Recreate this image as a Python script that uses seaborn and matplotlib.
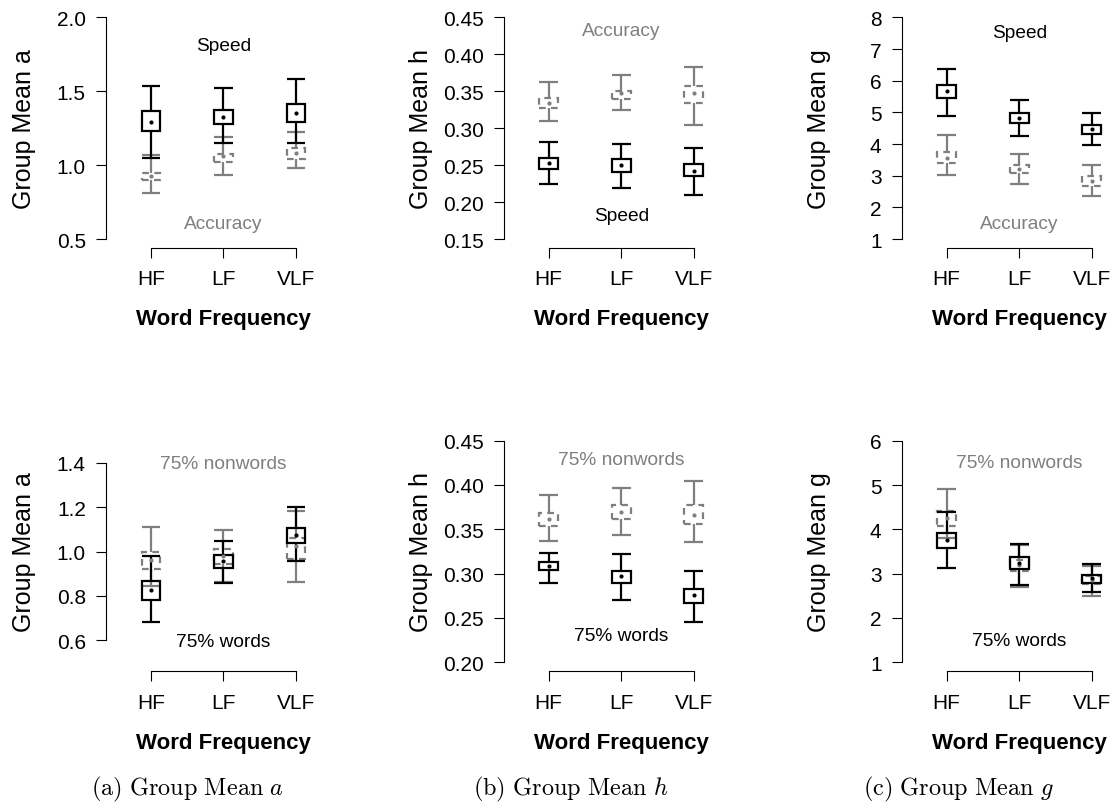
import numpy as np
import matplotlib
matplotlib.use("Agg")
import matplotlib.pyplot as plt
import seaborn as sns

sns.set_theme(style="ticks")
plt.rcParams["font.family"] = ["Liberation Sans", "DejaVu Sans"]
plt.rcParams["mathtext.fontset"] = "cm"

# ---------------------------------------------------------------- data
freq_levels = ["HF", "LF", "VLF"]
freq_pos = [1, 2, 3]

# each condition: lower CI, lower box edge, mean, upper box edge, upper CI
# Panel (a) top: boundary separation a, speed vs accuracy instructions
a_speed_ci_lo = [1.051, 1.150, 1.149]
a_speed_box_lo = [1.232, 1.277, 1.293]
a_speed_mean = [1.293, 1.326, 1.356]
a_speed_box_hi = [1.367, 1.374, 1.412]
a_speed_ci_hi = [1.536, 1.520, 1.586]

a_acc_ci_lo = [0.811, 0.934, 0.980]
a_acc_box_lo = [0.897, 1.020, 1.041]
a_acc_mean = [0.928, 1.061, 1.081]
a_acc_box_hi = [0.950, 1.077, 1.115]
a_acc_ci_hi = [1.072, 1.189, 1.221]

# Panel (b) top: h
h_speed_ci_lo = [0.224, 0.219, 0.210]
h_speed_box_lo = [0.245, 0.241, 0.235]
h_speed_mean = [0.253, 0.2505, 0.242]
h_speed_box_hi = [0.260, 0.258, 0.252]
h_speed_ci_hi = [0.282, 0.279, 0.273]

h_acc_ci_lo = [0.310, 0.325, 0.305]
h_acc_box_lo = [0.327, 0.340, 0.334]
h_acc_mean = [0.334, 0.348, 0.348]
h_acc_box_hi = [0.341, 0.351, 0.357]
h_acc_ci_hi = [0.362, 0.372, 0.383]

# Panel (c) top: g
g_speed_ci_lo = [4.89, 4.26, 3.97]
g_speed_box_lo = [5.45, 4.65, 4.33]
g_speed_mean = [5.66, 4.82, 4.48]
g_speed_box_hi = [5.87, 4.97, 4.60]
g_speed_ci_hi = [6.37, 5.40, 4.98]

g_acc_ci_lo = [3.03, 2.74, 2.35]
g_acc_box_lo = [3.40, 3.07, 2.68]
g_acc_mean = [3.57, 3.20, 2.83]
g_acc_box_hi = [3.74, 3.35, 2.98]
g_acc_ci_hi = [4.28, 3.68, 3.33]

# Bottom row: 75% words vs 75% nonwords
a_words_ci_lo = [0.681, 0.858, 0.958]
a_words_box_lo = [0.783, 0.925, 1.040]
a_words_mean = [0.825, 0.955, 1.075]
a_words_box_hi = [0.868, 0.984, 1.108]
a_words_ci_hi = [0.978, 1.049, 1.202]

a_non_ci_lo = [0.845, 0.862, 0.861]
a_non_box_lo = [0.921, 0.945, 0.967]
a_non_mean = [0.960, 0.978, 1.027]
a_non_box_hi = [0.997, 1.012, 1.062]
a_non_ci_hi = [1.111, 1.098, 1.183]

h_words_ci_lo = [0.290, 0.270, 0.246]
h_words_box_lo = [0.304, 0.290, 0.267]
h_words_mean = [0.309, 0.297, 0.2755]
h_words_box_hi = [0.313, 0.303, 0.283]
h_words_ci_hi = [0.323, 0.322, 0.303]

h_non_ci_lo = [0.337, 0.344, 0.336]
h_non_box_lo = [0.354, 0.362, 0.356]
h_non_mean = [0.362, 0.370, 0.366]
h_non_box_hi = [0.368, 0.377, 0.377]
h_non_ci_hi = [0.389, 0.397, 0.4045]

g_words_ci_lo = [3.13, 2.75, 2.59]
g_words_box_lo = [3.57, 3.10, 2.79]
g_words_mean = [3.77, 3.24, 2.90]
g_words_box_hi = [3.92, 3.37, 2.98]
g_words_ci_hi = [4.38, 3.66, 3.21]

g_non_ci_lo = [3.80, 2.71, 2.50]
g_non_box_lo = [4.07, 3.06, 2.76]
g_non_mean = [4.25, 3.20, 2.86]
g_non_box_hi = [4.41, 3.31, 2.95]
g_non_ci_hi = [4.92, 3.64, 3.17]

# ---------------------------------------------------------------- style
BLACK = "#000000"
GRAY = "#7f7f7f"
LW = 1.6
HALF = 0.13          # half-width of boxes and caps (x units)
W_PX, H_PX = 1116, 812

fig = plt.figure(figsize=(W_PX / 100, H_PX / 100), dpi=100)


def add_panel(left, top, width=235.0, height=239.4):
    return fig.add_axes([left / W_PX, 1 - (top + height) / H_PX,
                         width / W_PX, height / H_PX])


def draw_condition(ax, ci_lo, box_lo, mean, box_hi, ci_hi, color, box_ls):
    x = np.asarray(freq_pos, dtype=float)
    ax.vlines(x, ci_lo, box_lo, color=color, lw=LW, zorder=3)
    ax.vlines(x, box_hi, ci_hi, color=color, lw=LW, zorder=3)
    ax.hlines(ci_lo, x - HALF, x + HALF, color=color, lw=LW, zorder=3)
    ax.hlines(ci_hi, x - HALF, x + HALF, color=color, lw=LW, zorder=3)
    ax.bar(x, np.subtract(box_hi, box_lo), bottom=box_lo, width=2 * HALF,
           fill=False, edgecolor=color, linewidth=LW, linestyle=box_ls,
           zorder=3)
    sns.scatterplot(x=x, y=mean, ax=ax, color=color, s=9, linewidth=0,
                    zorder=4, legend=False)


def style_axes(ax, ylim, yticks, ytick_fmt, ylabel):
    lo, hi = ylim
    r = hi - lo
    ax.set_ylim(lo - 0.04 * r, hi + 0.04 * r)
    ax.set_xlim(0.38, 3.62)
    ax.set_yticks(yticks)
    ax.set_yticklabels([ytick_fmt % t for t in yticks])
    ax.set_xticks(freq_pos)
    ax.set_xticklabels(freq_levels)
    for side in ("top", "right"):
        ax.spines[side].set_visible(False)
    ax.spines["left"].set_bounds(yticks[0], yticks[-1])
    ax.spines["bottom"].set_bounds(1, 3)
    for side in ("left", "bottom"):
        ax.spines[side].set_linewidth(0.8)
        ax.spines[side].set_color("#000000")
    ax.tick_params(axis="both", direction="out", length=7.5, width=0.8,
                   color="#000000", labelsize=15, labelcolor="#000000")
    ax.tick_params(axis="y", pad=7)
    ax.tick_params(axis="x", pad=8)
    ax.set_ylabel(ylabel, fontsize=18, color="#000000")
    ax.yaxis.set_label_coords(-0.30, 0.5)
    ax.set_xlabel("Word Frequency", fontsize=16, fontweight="bold",
                  color="#000000")
    ax.xaxis.set_label_coords(0.5, -0.252)
    ax.set_facecolor("white")
    ax.grid(False)


LEFTS = [106.0, 503.7, 901.7]
TOPS = [9.5, 432.8]

panels = [
    # row, col, ylabel, ylim, yticks, tick format, black series, gray series,
    # black text, gray text, y of black text, y of gray text
    (0, 0, "Group Mean a", (0.5, 2.0), [0.5, 1.0, 1.5, 2.0], "%.1f",
     (a_speed_ci_lo, a_speed_box_lo, a_speed_mean, a_speed_box_hi, a_speed_ci_hi),
     (a_acc_ci_lo, a_acc_box_lo, a_acc_mean, a_acc_box_hi, a_acc_ci_hi),
     "Speed", "Accuracy", 1.808, 0.606),
    (0, 1, "Group Mean h", (0.15, 0.45),
     [0.15, 0.20, 0.25, 0.30, 0.35, 0.40, 0.45], "%.2f",
     (h_speed_ci_lo, h_speed_box_lo, h_speed_mean, h_speed_box_hi, h_speed_ci_hi),
     (h_acc_ci_lo, h_acc_box_lo, h_acc_mean, h_acc_box_hi, h_acc_ci_hi),
     "Speed", "Accuracy", 0.1815, 0.432),
    (0, 2, "Group Mean g", (1, 8), [1, 2, 3, 4, 5, 6, 7, 8], "%d",
     (g_speed_ci_lo, g_speed_box_lo, g_speed_mean, g_speed_box_hi, g_speed_ci_hi),
     (g_acc_ci_lo, g_acc_box_lo, g_acc_mean, g_acc_box_hi, g_acc_ci_hi),
     "Speed", "Accuracy", 7.53, 1.505),
    (1, 0, "Group Mean a", (0.5, 1.5), [0.6, 0.8, 1.0, 1.2, 1.4], "%.1f",
     (a_words_ci_lo, a_words_box_lo, a_words_mean, a_words_box_hi, a_words_ci_hi),
     (a_non_ci_lo, a_non_box_lo, a_non_mean, a_non_box_hi, a_non_ci_hi),
     "75% words", "75% nonwords", 0.596, 1.397),
    (1, 1, "Group Mean h", (0.20, 0.45),
     [0.20, 0.25, 0.30, 0.35, 0.40, 0.45], "%.2f",
     (h_words_ci_lo, h_words_box_lo, h_words_mean, h_words_box_hi, h_words_ci_hi),
     (h_non_ci_lo, h_non_box_lo, h_non_mean, h_non_box_hi, h_non_ci_hi),
     "75% words", "75% nonwords", 0.230, 0.429),
    (1, 2, "Group Mean g", (1, 6), [1, 2, 3, 4, 5, 6], "%d",
     (g_words_ci_lo, g_words_box_lo, g_words_mean, g_words_box_hi, g_words_ci_hi),
     (g_non_ci_lo, g_non_box_lo, g_non_mean, g_non_box_hi, g_non_ci_hi),
     "75% words", "75% nonwords", 1.49, 5.51),
]

for (row, col, ylabel, ylim, yticks, fmt, black, gray,
     btxt, gtxt, by, gy) in panels:
    ax = add_panel(LEFTS[col], TOPS[row])
    draw_condition(ax, *gray, color=GRAY, box_ls=(0, (3, 2.4)))
    draw_condition(ax, *black, color=BLACK, box_ls="-")
    style_axes(ax, ylim, yticks, fmt, ylabel)
    ax.text(2, by, btxt, ha="center", va="center", fontsize=13.8, color=BLACK)
    ax.text(2, gy, gtxt, ha="center", va="center", fontsize=13.8, color=GRAY)

captions = [r"$\mathrm{(a)\ Group\ Mean}\ a$",
            r"$\mathrm{(b)\ Group\ Mean}\ h$",
            r"$\mathrm{(c)\ Group\ Mean}\ g$"]
for cx, cap in zip([187, 571, 959], captions):
    fig.text(cx / W_PX, 1 - 789 / H_PX, cap, ha="center", va="center",
             fontsize=17.5, color="#000000")

fig.savefig("out.png", dpi=100, facecolor="white")
